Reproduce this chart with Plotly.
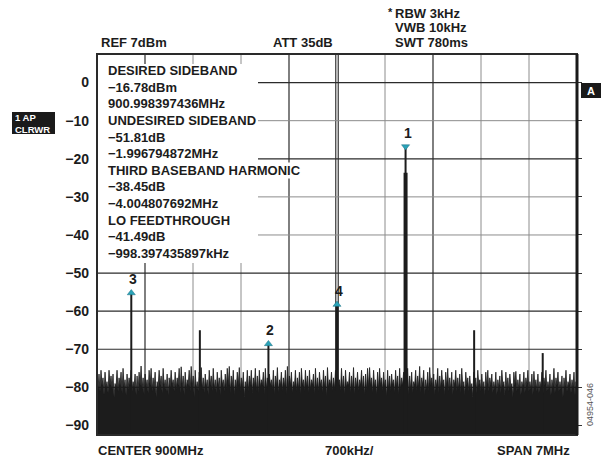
import plotly.graph_objects as go

# ---------------- data ----------------
center_mhz = 900
span_mhz = 7.0
div_khz = 700
x_min, x_max = -3.5, 3.5          # MHz offset from centre
y_min, y_max = -92.5, 7.5         # dBm

ytick_vals = [0, -10, -20, -30, -40, -50, -60, -70, -80, -90]

# noise floor: local maxima (spikes) and the local minima between them (dBm),
# evenly spaced across the 7 MHz span
noise_peak_db = [
    -78.0, -76.5, -75.5, -77.5, -76.0, -78.5, -75.5, -77.0, -76.5, -79.0, -75.5, -77.5, -76.0, -75.0, -78.0, -76.5, -77.5, -75.5, -78.5, -76.5,
    -77.0, -76.0, -74.4, -77.5, -76.5, -78.0, -75.5, -75.0, -77.5, -76.0, -78.5, -75.5, -77.0, -75.0, -78.0, -76.5, -77.5, -75.5, -78.0, -76.0,
    -77.5, -75.0, -74.6, -77.0, -76.0, -78.0, -75.5, -74.5, -77.0, -75.5, -78.5, -76.0, -74.8, -77.5, -76.5, -78.0, -75.5, -77.0, -75.0, -78.0,
    -76.0, -77.5, -75.5, -78.0, -76.5, -75.0, -74.5, -77.0, -75.5, -78.0, -76.0, -74.8, -77.5, -76.0, -78.5, -75.5, -77.0, -75.5, -77.5, -75.0,
    -77.0, -75.5, -78.0, -76.0, -75.0, -77.5, -76.5, -78.0, -75.5, -77.0, -74.8, -78.0, -76.0, -77.5, -75.5, -74.5, -77.0, -76.0, -78.5, -75.5,
    -77.5, -76.0, -75.0, -78.0, -75.5, -77.0, -75.5, -78.0, -76.5, -75.0, -77.5, -76.0, -78.0, -75.5, -77.0, -74.8, -78.0, -76.0, -77.5, -75.5,
    -76.5, -78.0, -75.0, -77.0, -75.5, -78.5, -76.0, -77.0, -74.8, -77.5, -76.0, -78.0, -75.5, -77.0, -76.5, -75.0, -74.8, -77.5, -75.5, -78.0,
    -76.0, -75.0, -77.5, -76.0, -78.0, -75.5, -77.0, -76.5, -78.0, -75.5, -77.0, -75.0, -77.5, -76.0, -78.0, -75.0, -77.0, -76.0, -78.5, -75.5,
    -77.0, -74.5, -77.5, -75.5, -78.0, -76.0, -74.8, -77.5, -76.5, -78.0, -75.0, -77.0, -75.5, -78.0, -76.0, -75.0, -77.5, -76.0, -78.0, -75.5,
    -77.5, -76.5, -75.0, -78.5, -76.0, -77.5, -77.0, -79.0, -76.0, -77.5, -75.5, -78.0, -76.5, -78.5, -76.0, -75.5, -77.5, -76.5, -78.5, -76.0,
    -78.0, -77.0, -75.5, -78.5, -76.0, -77.5, -76.5, -79.0, -76.0, -75.8, -78.0, -76.5, -78.5, -76.0, -77.5, -75.5, -78.5, -76.5, -75.8, -78.0,
    -76.5, -78.5, -76.0, -77.5, -75.5, -78.5, -76.5, -78.0, -75.0, -77.5, -76.0, -78.5, -77.0, -77.5, -75.5, -78.5, -76.5, -78.0, -76.0, -78.5,
]
noise_trough_db = [
    -80.5, -81.0, -79.5, -82.0, -80.0, -81.5, -79.5, -80.5, -82.5, -80.0, -81.0, -79.5, -81.5, -80.0, -82.0, -80.5, -79.5, -81.0, -80.0, -82.0,
    -81.0, -79.5, -80.5, -82.0, -80.0, -81.5, -79.5, -81.0, -80.5, -82.5, -80.0, -79.5, -81.5, -80.0, -81.0, -82.0, -80.0, -79.5, -81.0, -80.5,
    -79.5, -81.5, -80.0, -82.0, -80.5, -79.5, -81.0, -80.0, -82.5, -80.5, -81.0, -79.5, -80.5, -81.5, -80.0, -82.0, -79.5, -81.0, -80.5, -81.5,
    -80.0, -82.0, -79.5, -81.0, -80.5, -79.5, -81.5, -80.0, -82.0, -80.5, -79.5, -81.0, -80.0, -82.5, -80.5, -81.0, -79.5, -81.5, -80.0, -81.0,
    -81.5, -80.0, -79.5, -82.0, -80.5, -81.0, -79.5, -80.5, -82.0, -80.0, -81.5, -79.5, -81.0, -80.0, -82.0, -80.5, -79.5, -81.5, -80.0, -81.0,
    -80.5, -82.0, -79.5, -81.0, -80.0, -81.5, -80.5, -79.5, -82.0, -80.5, -81.0, -79.5, -81.5, -80.0, -82.5, -80.0, -79.5, -81.0, -80.5, -82.0,
    -79.5, -81.0, -80.5, -82.0, -80.0, -79.5, -81.5, -80.5, -82.0, -80.0, -81.0, -79.5, -80.5, -82.0, -81.0, -80.0, -79.5, -81.5, -80.0, -82.0,
    -80.5, -79.5, -81.0, -80.0, -82.5, -80.5, -81.0, -79.5, -81.5, -80.0, -82.0, -80.5, -79.5, -81.0, -80.0, -82.0, -80.5, -81.5, -79.5, -81.0,
    -80.0, -81.5, -79.5, -82.0, -80.5, -81.0, -79.5, -80.5, -82.0, -80.0, -81.5, -80.5, -79.5, -82.0, -80.0, -81.0, -80.5, -82.0, -79.5, -81.0,
    -80.5, -81.5, -80.0, -82.0, -79.5, -81.0, -80.5, -82.5, -80.0, -81.5, -79.5, -81.0, -80.5, -82.0, -80.0, -81.0, -79.5, -81.5, -80.5, -82.0,
    -80.0, -81.5, -79.5, -82.0, -80.5, -81.0, -80.0, -82.5, -79.5, -81.0, -80.5, -82.0, -80.0, -81.5, -79.5, -81.0, -80.5, -82.0, -80.0, -81.0,
    -81.5, -80.0, -82.0, -79.5, -81.0, -80.5, -82.0, -80.0, -81.5, -79.5, -81.0, -80.5, -82.5, -80.0, -81.0, -79.5, -81.5, -80.0, -82.0, -80.5,
]

# discrete tones (MHz offset, dBm)
tone_offsets_mhz = [-3.0, -2.0, -1.0, 0.0, 1.0, 2.0, 3.0]
tone_db = [-55.23, -65.0, -68.59, -58.27, -16.78, -65.0, -71.0]
main_tone_skirt_db = -23.7

# analyser markers
marker_labels = ["1", "2", "3", "4"]
marker_offsets_mhz = [1.0, -1.0, -3.0, 0.0]
marker_db = [-16.78, -68.59, -55.23, -58.27]

readout_lines = [
    "DESIRED SIDEBAND", "\u221216.78dBm", "900.998397436MHz",
    "UNDESIRED SIDEBAND", "\u221251.81dB", "\u22121.996794872MHz",
    "THIRD BASEBAND HARMONIC", "\u221238.45dB", "\u22124.004807692MHz",
    "LO FEEDTHROUGH", "\u221241.49dB", "\u2212998.397435897kHz",
]

# ---------------- figure ----------------
W, H = 608, 458
L, R, T, B = 97, 577, 54, 435
INK = "#1c1c1c"
FONT = "Liberation Sans, Arial, Helvetica, sans-serif"


def px(x):
    return (x - L) / (R - L)


def py(y):
    return (B - y) / (B - T)


def mhz_of_px(x):
    return x_min + (x - L) / (R - L) * (x_max - x_min)


def db_of_px(y):
    return y_min + (B - y) / (B - T) * (y_max - y_min)


n = len(noise_peak_db)
step = (x_max - x_min) / (2 * n - 1)
noise_x, noise_y = [], []
for i, (pk, tr) in enumerate(zip(noise_peak_db, noise_trough_db)):
    noise_x += [x_min + (2 * i) * step, x_min + (2 * i + 1) * step]
    noise_y += [pk, tr]

fig = go.Figure()

# baseline for the filled noise trace
fig.add_trace(go.Scatter(x=noise_x, y=[y_min] * len(noise_x), mode="lines",
                         line=dict(width=0, color=INK), hoverinfo="skip", showlegend=False))
fig.add_trace(go.Scatter(x=noise_x, y=noise_y, mode="lines", fill="tonexty",
                         fillcolor=INK, line=dict(width=0.8, color=INK),
                         hoverinfo="skip", showlegend=False))

# tones drawn as vertical lines
tone_widths = {0.0: 3}
for xo, yd in zip(tone_offsets_mhz, tone_db):
    fig.add_trace(go.Scatter(x=[xo, xo], y=[y_min, yd], mode="lines",
                             line=dict(width=tone_widths.get(xo, 2), color=INK),
                             hoverinfo="skip", showlegend=False))
main_idx = tone_db.index(max(tone_db))
fig.add_trace(go.Scatter(x=[tone_offsets_mhz[main_idx]] * 2, y=[y_min, main_tone_skirt_db],
                         mode="lines", line=dict(width=4, color=INK),
                         hoverinfo="skip", showlegend=False))

# marker triangles
symbols = ["triangle-down" if lab == "1" else "triangle-up" for lab in marker_labels]
fig.add_trace(go.Scatter(x=marker_offsets_mhz, y=marker_db, mode="markers",
                         marker=dict(symbol=symbols, size=7, color="#2aa3b8",
                                     line=dict(width=0.5, color="#1b6f80")),
                         hoverinfo="skip", showlegend=False))

# dummy trace for right-side tick axis
fig.add_trace(go.Scatter(x=[x_min], y=[y_min], yaxis="y2", mode="markers",
                         marker=dict(opacity=0), hoverinfo="skip", showlegend=False))

shapes = []
DARK = "#2b2b2b"
GRAY = "#8c8c8c"
v_styles = {1: DARK, 2: GRAY, 3: GRAY, 4: DARK, 6: GRAY, 7: DARK, 8: GRAY, 9: GRAY}
for k, col in v_styles.items():
    xv = x_min + k * div_khz / 1000
    shapes.append(dict(type="line", xref="x", yref="y", x0=xv, x1=xv, y0=y_min, y1=y_max,
                       line=dict(color=col, width=1.2 if col == DARK else 1), layer="below"))
# centre double line
shapes.append(dict(type="line", xref="x", yref="y", x0=0, x1=0, y0=y_min, y1=y_max,
                   line=dict(color=DARK, width=3.6), layer="below"))
shapes.append(dict(type="line", xref="x", yref="y", x0=0, x1=0, y0=y_min, y1=y_max,
                   line=dict(color="white", width=1.3), layer="below"))
h_styles = {0: DARK, -10: GRAY, -20: DARK, -30: GRAY, -40: GRAY, -50: DARK,
            -60: DARK, -70: DARK, -80: DARK, -90: DARK}
for yv, col in h_styles.items():
    shapes.append(dict(type="line", xref="x", yref="y", x0=x_min, x1=x_max, y0=yv, y1=yv,
                       line=dict(color=col, width=1.2 if col == DARK else 1), layer="below"))
# white panel behind the marker readout
shapes.append(dict(type="rect", xref="x", yref="y", x0=x_min, x1=mhz_of_px(258),
                   y0=db_of_px(263), y1=db_of_px(64), fillcolor="white",
                   line=dict(width=0), layer="below"))
# frame
shapes.append(dict(type="rect", xref="paper", yref="paper", x0=0, x1=1, y0=0, y1=1,
                   line=dict(color="#2a2a2a", width=2), layer="above"))
shapes.append(dict(type="line", xref="paper", yref="paper", x0=1, x1=1, y0=0, y1=1,
                   line=dict(color="#1a1a1a", width=3), layer="above"))
# black label boxes
shapes.append(dict(type="rect", xref="paper", yref="paper", x0=px(581), x1=px(601),
                   y0=py(98), y1=py(83), fillcolor="#1a1a1a", line=dict(width=0)))
shapes.append(dict(type="rect", xref="paper", yref="paper", x0=px(12), x1=px(55),
                   y0=py(134), y1=py(112), fillcolor="#1a1a1a", line=dict(width=0)))

ann = []


def text(s, x, y, size=13, anchor="left", color=INK, bold=True, bg=None, angle=0):
    d = dict(text=s, xref="paper", yref="paper", x=px(x), y=py(y), xanchor=anchor,
             yanchor="middle", showarrow=False, textangle=angle, align="left",
             font=dict(family=FONT, size=size, color=color, weight="bold" if bold else "normal"),
             borderpad=0)
    if bg:
        d["bgcolor"] = bg
    ann.append(d)


y0_line, dy_line = 70.7, 16.6
for i, s in enumerate(readout_lines):
    text(s, 107, y0_line + i * dy_line, bg="white" if s.startswith("THIRD") else None)

text("REF 7dBm", 100, 42.5)
text("ATT 35dB", 303, 42.5, anchor="center")
text("*", 387, 12, size=11)
text("RBW 3kHz", 394, 14)
text("VWB 10kHz", 394, 27.5)
text("SWT 780ms", 394, 42)
text("CENTER %dMHz" % center_mhz, 97, 450)
text("%dkHz/" % div_khz, 349, 450, anchor="center")
text("SPAN %gMHz" % span_mhz, 571, 450, anchor="right")
text("A", 591, 91, size=11, color="white", anchor="center")
text("1 AP<br>CLRWR", 14, 123, size=9.5, color="white")
text("04954-046", 590, 405, size=9, anchor="center", color="#555555", bold=False, angle=-90)

for lab, xo, yd in zip(marker_labels, marker_offsets_mhz, marker_db):
    ann.append(dict(text=lab, x=xo, y=yd, xref="x", yref="y", showarrow=False,
                    xanchor="center", yanchor="middle", xshift=2, yshift=14,
                    font=dict(family=FONT, size=14, color=INK, weight="bold")))

fig.update_layout(
    width=W, height=H,
    margin=dict(l=L, r=W - R, t=T, b=H - B, pad=0),
    paper_bgcolor="white", plot_bgcolor="white",
    showlegend=False,
    xaxis=dict(range=[x_min, x_max], showgrid=False, zeroline=False, showticklabels=False,
               ticks="", showline=False, fixedrange=True),
    yaxis=dict(range=[y_min, y_max], tickvals=ytick_vals, showgrid=False, zeroline=False,
               ticks="", showline=False, ticklabelstandoff=7,
               tickfont=dict(family=FONT, size=14, color=INK, weight="bold")),
    yaxis2=dict(range=[y_min, y_max], tickvals=ytick_vals, overlaying="y", side="right",
                anchor="x", showgrid=False, zeroline=False, showticklabels=False,
                ticks="outside", ticklen=4, tickwidth=1, tickcolor="#333333", showline=False),
    shapes=shapes,
    annotations=ann,
)

fig.write_html("out.html", config={"displayModeBar": False},
               post_script="document.body.style.margin='0px';document.body.style.overflow='hidden';")
